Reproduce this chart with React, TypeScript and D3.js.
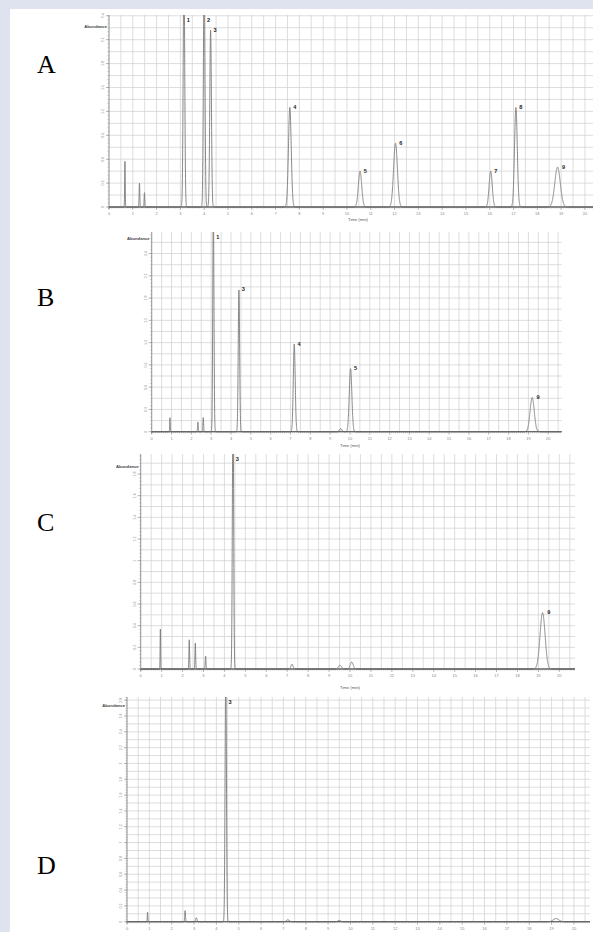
import React from 'react';
import * as d3 from 'd3';

// ---- data: retention time (min), peak height (abundance), peak sigma (min), peak label ----
const rtA = [0.67, 1.28, 1.49, 3.15, 4.0, 4.27, 7.6, 10.55, 12.04, 16.04, 17.1, 18.85];
const htA = [0.575, 0.3, 0.18, 3.0, 3.0, 2.22, 1.25, 0.45, 0.8, 0.45, 1.25, 0.5];
const sgA = [0.012, 0.014, 0.014, 0.032, 0.032, 0.034, 0.058, 0.07, 0.08, 0.065, 0.058, 0.115];
const lbA = ['', '', '', '1', '2', '3', '4', '5', '6', '7', '8', '9'];
const yTicksA = [0, 0.3, 0.6, 0.9, 1.2, 1.5, 1.8, 2.1, 2.4];

const rtB = [0.92, 2.33, 2.6, 3.11, 4.4, 7.19, 9.53, 10.03, 19.19];
const htB = [0.19, 0.13, 0.19, 3.0, 1.91, 1.18, 0.04, 0.85, 0.46];
const sgB = [0.012, 0.018, 0.018, 0.03, 0.035, 0.048, 0.06, 0.065, 0.105];
const lbB = ['', '', '', '1', '3', '4', '', '5', '9'];
const yTicksB = [0, 0.3, 0.6, 0.9, 1.2, 1.5, 1.8, 2.1, 2.4];

const rtC = [0.94, 2.32, 2.61, 3.1, 4.41, 7.23, 9.52, 10.08, 19.2];
const htC = [0.37, 0.27, 0.24, 0.12, 2.5, 0.045, 0.035, 0.065, 0.52];
const sgC = [0.012, 0.016, 0.016, 0.018, 0.03, 0.05, 0.07, 0.07, 0.12];
const lbC = ['', '', '', '', '3', '', '', '', '9'];
const yTicksC = [0, 0.2, 0.4, 0.6, 0.8, 1, 1.2, 1.4, 1.6, 1.8];

const rtD = [0.92, 2.6, 3.1, 4.42, 7.2, 9.5, 19.2];
const htD = [0.12, 0.14, 0.05, 3.2, 0.025, 0.015, 0.04];
const sgD = [0.012, 0.016, 0.03, 0.03, 0.06, 0.06, 0.12];
const lbD = ['', '', '', '3', '', '', ''];
const yTicksD = [0, 0.2, 0.4, 0.6, 0.8, 1, 1.2, 1.4, 1.6, 1.8, 2, 2.2, 2.4, 2.6, 2.8];

const panelNames = ['A', 'B', 'C', 'D'];
const timeTitle = ['Time (min)', 'Time (min)', 'Time (min)', ''];

// ---- layout (positions/sizes only) ----
const W = 593;
const H = 932;
const layouts = [
  { x0: 109, x1: 593, top: 15, base: 207, xmax: 20.34, ymax: 2.41, ystep: 0.3, abY: 28, letterY: 73, timeX: 348, timeY: 221 },
  { x0: 151.7, x1: 561.7, top: 232, base: 431.7, xmax: 20.68, ymax: 2.69, ystep: 0.3, abY: 240, letterY: 306, timeX: 340, timeY: 447 },
  { x0: 140.7, x1: 575, top: 454, base: 669, xmax: 20.75, ymax: 1.985, ystep: 0.2, abY: 468, letterY: 531, timeX: 340, timeY: 689 },
  { x0: 127, x1: 590, top: 697, base: 921.7, xmax: 20.72, ymax: 2.84, ystep: 0.2, abY: 707, letterY: 874, timeX: 340, timeY: 940 },
];

const series = [
  { rt: rtA, ht: htA, sg: sgA, lb: lbA, ticks: yTicksA },
  { rt: rtB, ht: htB, sg: sgB, lb: lbB, ticks: yTicksB },
  { rt: rtC, ht: htC, sg: sgC, lb: lbC, ticks: yTicksC },
  { rt: rtD, ht: htD, sg: sgD, lb: lbD, ticks: yTicksD },
];

const fmt = (v: number) => String(+v.toFixed(1));
const SANS = "'Liberation Sans', Arial, sans-serif";

function Panel({ idx }: { idx: number }) {
  const L = layouts[idx];
  const S = series[idx];
  const x = d3.scaleLinear().domain([0, L.xmax]).range([L.x0, L.x1]);
  const y = d3.scaleLinear().domain([0, L.ymax]).range([L.base, L.top]);
  const signal = (t: number) =>
    d3.sum(S.rt, (r, i) => S.ht[i] * Math.exp(-0.5 * ((t - r) / S.sg[i]) ** 2));
  const ts = d3.range(0, L.xmax + 0.002, 0.003);
  const line = d3.line<number>().x((t) => x(t)).y((t) => y(signal(t)));
  const clipId = `clip${idx}`;

  const vGrid = d3.range(0, L.xmax + 1e-6, 0.5);
  const hGrid = d3.range(0, L.ymax + 1e-6, L.ystep / 2);
  const xMinor = d3.range(0, L.xmax + 1e-6, 0.1);
  const yMinor = d3.range(0, L.ymax + 1e-6, L.ystep / 6);
  const xLabels = d3.range(0, 21, 1);

  return (
    <g>
      <defs>
        <clipPath id={clipId}>
          <rect x={L.x0 - 1} y={L.top} width={L.x1 - L.x0 + 2} height={L.base - L.top + 4} />
        </clipPath>
      </defs>
      {/* grid */}
      {vGrid.map((v, i) => (
        <line key={'v' + i} x1={x(v)} x2={x(v)} y1={L.top} y2={L.base} stroke="#cfcfcf" strokeWidth={0.7} />
      ))}
      {hGrid.map((v, i) => (
        <line key={'h' + i} x1={L.x0} x2={L.x1} y1={y(v)} y2={y(v)} stroke="#cfcfcf" strokeWidth={0.7} />
      ))}
      {/* y axis */}
      <line x1={L.x0} x2={L.x0} y1={L.top} y2={L.base + 2} stroke="#888" strokeWidth={0.8} />
      {yMinor.map((v, i) => (
        <line key={'ym' + i} x1={L.x0 - 1.5} x2={L.x0} y1={y(v)} y2={y(v)} stroke="#999" strokeWidth={0.5} />
      ))}
      {S.ticks.map((v, i) => (
        <g key={'yt' + i}>
          <line x1={L.x0 - 3} x2={L.x0} y1={y(v)} y2={y(v)} stroke="#888" strokeWidth={0.6} />
          <text
            transform={`translate(${L.x0 - 5},${y(v)}) rotate(-90)`}
            textAnchor="middle"
            fontSize={3.6}
            fill="#888"
            fontFamily={SANS}
          >
            {fmt(v)}
          </text>
        </g>
      ))}
      <text x={L.x0 - 2} y={L.abY} textAnchor="end" fontSize={4.2} fontWeight="bold" fill="#444" fontFamily={SANS}>
        Abundance
      </text>
      {/* x axis */}
      <line x1={L.x0} x2={L.x1} y1={L.base} y2={L.base} stroke="#666" strokeWidth={1.3} />
      {xMinor.map((v, i) => (
        <line key={'xm' + i} x1={x(v)} x2={x(v)} y1={L.base} y2={L.base + 1.5} stroke="#888" strokeWidth={0.5} />
      ))}
      {xLabels.map((v) => (
        <g key={'xl' + v}>
          <line x1={x(v)} x2={x(v)} y1={L.base} y2={L.base + 3} stroke="#888" strokeWidth={0.6} />
          <text x={x(v)} y={L.base + 8} textAnchor="middle" fontSize={4} fill="#888" fontFamily={SANS}>
            {v}
          </text>
        </g>
      ))}
      {timeTitle[idx] ? (
        <text x={L.timeX} y={L.timeY} fontSize={4.2} fill="#555" fontFamily={SANS}>
          {timeTitle[idx]}
        </text>
      ) : null}
      {/* trace */}
      <path d={line(ts) || ''} fill="none" stroke="#7a7a7a" strokeWidth={0.9} clipPath={`url(#${clipId})`} />
      {/* peak labels */}
      {S.lb.map((lab, i) => {
        if (!lab) return null;
        const clipped = S.ht[i] > L.ymax;
        const ly = clipped ? L.top + 7 : y(S.ht[i]) + 1.5;
        return (
          <text
            key={'pl' + i}
            x={x(S.rt[i]) + 2.2 + S.sg[i] * 20}
            y={ly}
            fontSize={5.6}
            fontWeight="bold"
            fill="#222"
            fontFamily={SANS}
          >
            {lab}
          </text>
        );
      })}
      {/* panel letter */}
      <text x={37} y={L.letterY} fontSize={26} fill="#000" fontFamily="'Liberation Serif', 'Times New Roman', serif">
        {panelNames[idx]}
      </text>
    </g>
  );
}

export default function App() {
  return (
    <div style={{ position: 'absolute', left: 0, top: 0, width: W, height: H, overflow: 'hidden' }}>
      <svg width={W} height={H} viewBox={`0 0 ${W} ${H}`} style={{ display: 'block' }}>
        <rect x={0} y={0} width={W} height={H} fill="#dfe3f0" />
        <rect x={10} y={9} width={W - 10} height={H - 9} fill="#ffffff" />
        {layouts.map((_, i) => (
          <Panel key={i} idx={i} />
        ))}
      </svg>
    </div>
  );
}
